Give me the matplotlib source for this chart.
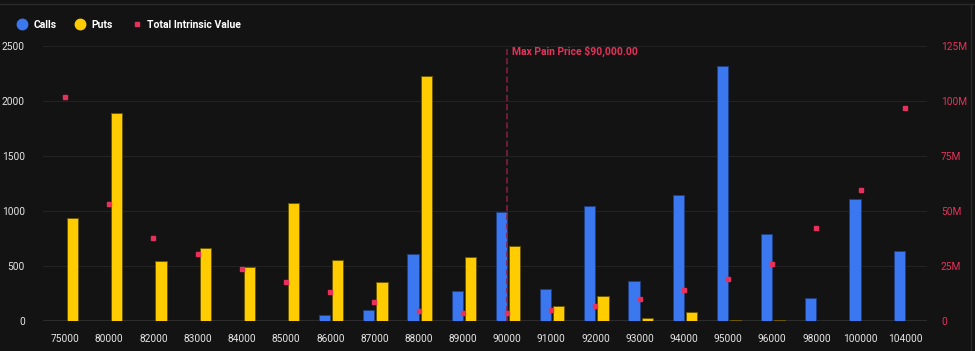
import numpy as np
import matplotlib as mpl
mpl.use('Agg')
import matplotlib.pyplot as plt
from matplotlib.lines import Line2D
from matplotlib.ticker import FuncFormatter, MultipleLocator

# data
strikes = ['75000', '80000', '82000', '83000', '84000', '85000', '86000', '87000',
           '88000', '89000', '90000', '91000', '92000', '93000', '94000', '95000',
           '96000', '98000', '100000', '104000']
calls = [0, 0, 0, 0, 0, 0, 52, 100, 606, 276, 995, 291, 1042, 361, 1142, 2315,
         788, 212, 1112, 639]
puts = [935, 1890, 545, 663, 490, 1075, 555, 355, 2225, 583, 680, 140, 225, 30, 80,
        10, 10, 0, 0, 0]
intrinsic_m = [101.7, 53.3, 37.6, 30.5, 23.6, 17.7, 13.0, 8.6, 4.7, 3.5, 3.5, 5.2,
               7.0, 10.2, 14.1, 18.9, 26.1, 42.3, 59.4, 96.8]
max_pain = '90000'

bg = '#131313'
blue = '#3b78f0'
yellow = '#ffcc00'
red = '#e8315a'
txt = '#e6e6e6'

plt.rcParams['font.family'] = ['Roboto', 'DejaVu Sans']
dpi = 100
fig = plt.figure(figsize=(975 / dpi, 351 / dpi), dpi=dpi, facecolor=bg)
ax = fig.add_axes([43 / 975, 30 / 351, 884 / 975, 275 / 351], facecolor=bg)
ax2 = ax.twinx()

xs = np.arange(len(strikes))
w = 0.255
ax.bar(xs - 0.13, calls, width=w, color=blue, edgecolor='#1f3f80', linewidth=0.7, zorder=3)
ax.bar(xs + 0.17, puts, width=w, color=yellow, edgecolor='#6b5600', linewidth=0.7, zorder=3)

ax2.plot(xs, intrinsic_m, linestyle='none', marker='s', markersize=3,
         color=red, zorder=4)

ax.set_xlim(-0.5, len(strikes) - 0.5)
ax.set_ylim(0, 2500)
ax2.set_ylim(0, 125)
ax.yaxis.set_major_locator(MultipleLocator(500))
ax2.yaxis.set_major_locator(MultipleLocator(25))
ax2.yaxis.set_major_formatter(FuncFormatter(lambda v, p: '0' if v == 0 else '%dM' % v))

ax.set_xticks(xs)
ax.set_xticklabels(strikes)
ax.tick_params(axis='x', colors=txt, labelsize=7.3, length=0, pad=9)
ax.tick_params(axis='y', colors=txt, labelsize=7.3, length=0, pad=13)
ax2.tick_params(axis='y', colors=red, labelcolor=red, labelsize=7.3, length=0, pad=10)

ax.yaxis.grid(True, color='#232323', linewidth=0.8, zorder=0)
ax.set_axisbelow(True)
for a in (ax, ax2):
    for s in a.spines.values():
        s.set_visible(False)
ax.axhline(0, color='#333333', linewidth=1.2, zorder=2)

# max pain marker
mp = strikes.index(max_pain)
ax.axvline(mp, color='#8e1f40', linestyle=(0, (4, 2)), linewidth=1.1, zorder=5)
ax.text(mp + 0.1, 2450, 'Max Pain Price $%s.00' % format(int(max_pain), ','),
        color=red, fontsize=7.5, fontweight='bold', va='center', ha='left', zorder=6)

handles = [
    Line2D([], [], linestyle='none', marker='o', markersize=7.5, color=blue, label='Calls'),
    Line2D([], [], linestyle='none', marker='o', markersize=7.5, color=yellow, label='Puts'),
    Line2D([], [], linestyle='none', marker='s', markersize=3, color=red,
           label='Total Intrinsic Value'),
]
leg = fig.legend(handles=handles, loc='center left', bbox_to_anchor=(17 / 975, 1 - 25 / 351),
                 ncol=3, frameon=False, fontsize=7.5, handletextpad=0.55,
                 columnspacing=1.8, handlelength=1.0, borderpad=0, borderaxespad=0)
for t in leg.get_texts():
    t.set_color('white')
    t.set_fontweight('bold')

# frame lines of the panel
fig.add_artist(Line2D([0, 1], [1 - 4 / 351] * 2, transform=fig.transFigure,
                      color='#2a2a2a', linewidth=1))
fig.add_artist(Line2D([971 / 975] * 2, [0, 1 - 4 / 351], transform=fig.transFigure,
                      color='#2a2a2a', linewidth=1))

fig.savefig('out.png', dpi=dpi, facecolor=bg)
